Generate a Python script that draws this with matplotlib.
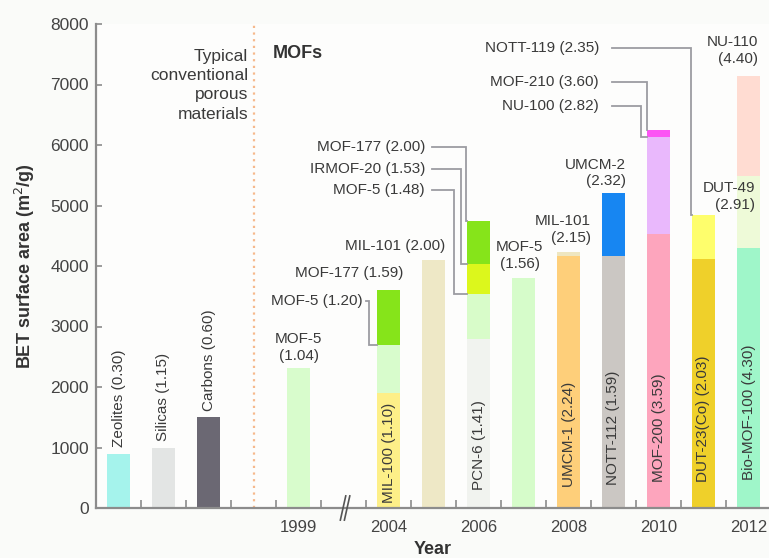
import matplotlib
matplotlib.use('Agg')
import matplotlib.pyplot as plt
from matplotlib.transforms import blended_transform_factory

plt.rcParams['font.family'] = ['Liberation Sans', 'DejaVu Sans']

# ---- data ----
# slot positions: 0 Zeolites, 1 Silicas, 2 Carbons, 3 divider, 4 1999, 5 axis break, 6..14 2004..2012
year_ticks = [4, 6, 8, 10, 12, 14]
year_labels = ['1999', '2004', '2006', '2008', '2010', '2012']
y_ticks = [0, 1000, 2000, 3000, 4000, 5000, 6000, 7000, 8000]

seg_slot = [0, 1, 2, 4, 6, 6, 6, 7, 8, 8, 8, 8, 9, 10, 10, 11, 11, 12, 12, 12, 13, 13, 14, 14, 14]
seg_name = ['Zeolites', 'Silicas', 'Carbons', 'MOF-5', 'MIL-100', 'MOF-5', 'MOF-177', 'MIL-101',
            'PCN-6', 'MOF-5', 'IRMOF-20', 'MOF-177', 'MOF-5', 'UMCM-1', 'MIL-101', 'NOTT-112',
            'UMCM-2', 'MOF-200', 'NU-100', 'MOF-210', 'DUT-23(Co)', 'NOTT-119', 'Bio-MOF-100',
            'DUT-49', 'NU-110']
seg_value = [900, 1000, 1500, 2320, 1900, 2700, 3600, 4100, 2800, 3530, 4030, 4750, 3800,
             4160, 4230, 4160, 5200, 4530, 6140, 6240, 4120, 4850, 4300, 5480, 7140]
seg_color = ['#a5f3ec', '#e3e5e4', '#6b6873', '#d8fccc', '#fdef88', '#d8fccc', '#86e41a', '#eee8c6',
             '#f1f3ef', '#d8fcc9', '#dcf71c', '#86e41a', '#d6fcca', '#fecf7a', '#eee6c0', '#cbc7c3',
             '#1786f2', '#fda5bd', '#e9b8fc', '#fc54f4', '#efd02a', '#fefe6c', '#9ff6c9', '#eefad8',
             '#ffdcd2']

# rotated labels inside / above bars
rot_text = ['Zeolites (0.30)', 'Silicas (1.15)', 'Carbons (0.60)', 'MIL-100 (1.10)', 'PCN-6 (1.41)',
            'UMCM-1 (2.24)', 'NOTT-112 (1.59)', 'MOF-200 (3.59)', 'DUT-23(Co) (2.03)',
            'Bio-MOF-100 (4.30)']
rot_slot = [0, 1, 2, 6, 8, 10, 11, 12, 13, 14]
rot_y = [1010, 1110, 1600, 80, 300, 350, 380, 430, 430, 460]

# multi-line labels above bars
top_text = ['MOF-5\n(1.04)', 'MOF-5\n(1.56)', 'MIL-101\n(2.15)', 'UMCM-2\n(2.32)', 'DUT-49\n(2.91)',
            'NU-110\n(4.40)']
top_x = [4.0, 8.92, 10.49, 11.28, 14.14, 14.21]
top_y = [2650, 4175, 4600, 5540, 5150, 7560]
top_ha = ['center', 'center', 'right', 'right', 'right', 'right']

# single-line labels without leaders
plain_text = ['MOF-177 (1.59)', 'MIL-101 (2.00)']
plain_x = [6.32, 7.26]
plain_y = [3885, 4335]

# leader labels
lead_text = ['MOF-5 (1.20)', 'MOF-177 (2.00)', 'IRMOF-20 (1.53)', 'MOF-5 (1.48)',
             'NOTT-119 (2.35)', 'MOF-210 (3.60)', 'NU-100 (2.82)']
lead_x = [5.43, 6.81, 6.81, 6.81, 10.68, 10.68, 10.68]
lead_y = [3425, 5970, 5600, 5255, 7600, 7045, 6645]
lead_gap = [0.06, 0.15, 0.15, 0.15, 0.28, 0.28, 0.28]
lead_vx = [5.567, 7.722, 7.604, 7.456, 12.72, 11.737, 11.604]
lead_slot = [6, 8, 8, 8, 13, 12, 12]
lead_target = [2700, 4750, 4030, 3530, 4850, 6240, 6140]

# ---- figure ----
fig = plt.figure(figsize=(7.69, 5.58), dpi=100, facecolor='#fafbf9')
ax = fig.add_axes([96 / 769, 50 / 558, 672.75 / 769, 484 / 558])
ax.set_facecolor('#fdfdfc')
ax.set_xlim(-0.5, 14.45)
ax.set_ylim(0, 8000)

bw = 0.5
last_top = {}
for s, v, c in sorted(zip(seg_slot, seg_value, seg_color), key=lambda t: (t[0], t[1])):
    b = last_top.get(s, 0)
    ax.bar(s, v - b, bottom=b, width=bw, color=c, edgecolor='none', zorder=2)
    last_top[s] = v

txt_c = '#3a3a3a'
fs = 11
for t, s, y in zip(rot_text, rot_slot, rot_y):
    ax.text(s, y, t, rotation=90, ha='center', va='bottom', fontsize=fs, color=txt_c, zorder=4)

for t, x, y, ha in zip(top_text, top_x, top_y, top_ha):
    ax.text(x, y, t, ha=ha, va='center', multialignment=ha, fontsize=fs, color=txt_c,
            linespacing=1.22, zorder=4)

for t, x, y in zip(plain_text, plain_x, plain_y):
    ax.text(x, y, t, ha='right', va='center', fontsize=fs, color=txt_c, zorder=4)

lc = '#9c9ca2'
for t, x, y, g, vx, s, tv in zip(lead_text, lead_x, lead_y, lead_gap, lead_vx, lead_slot, lead_target):
    ax.text(x, y, t, ha='right', va='center', fontsize=fs, color=txt_c, zorder=4)
    ax.plot([x + g, vx, vx, s - bw / 2], [y, y, tv, tv], color=lc, lw=1.3, zorder=3,
            solid_joinstyle='miter', clip_on=False)

ax.text(2.878, 6990, 'Typical\nconventional\nporous\nmaterials', ha='right', va='center',
        multialignment='right', fontsize=12.5, color=txt_c, linespacing=1.36)
ax.text(3.427, 7520, 'MOFs', ha='left', va='center', fontsize=13, fontweight='bold', color='#333333')

# divider between conventional materials and MOFs
ax.axvline(3.0, color='#f6b98c', lw=1.6, ls=(0, (1, 2)), zorder=1)

# axes styling
for side in ['top', 'right']:
    ax.spines[side].set_visible(False)
for side in ['left', 'bottom']:
    ax.spines[side].set_color('#8c8c8c')
    ax.spines[side].set_linewidth(1.6)

ax.set_yticks(y_ticks)
ax.set_yticklabels([str(v) for v in y_ticks])
ax.tick_params(axis='y', direction='in', length=4, width=1.2, color='#8c8c8c',
               labelsize=12.5, labelcolor='#444444', pad=5)
ax.set_xticks(year_ticks)
ax.set_xticklabels(year_labels)
ax.tick_params(axis='x', which='major', length=0, labelsize=12, labelcolor='#444444', pad=9)
ax.set_xticks([i + 0.5 for i in range(14)], minor=True)
ax.tick_params(axis='x', which='minor', direction='in', length=6, width=1.2, color='#8c8c8c')

ax.set_ylabel('BET surface area (m$^2$/g)', fontsize=13, fontweight='bold', color='#333333',
              labelpad=10)
ax.set_xlabel('Year', fontsize=13, fontweight='bold', color='#333333', labelpad=4)

# axis break marks
tr = blended_transform_factory(ax.transData, ax.transAxes)
for dx in (0.0, 0.09):
    ax.plot([4.93 + dx, 5.05 + dx], [-0.025, 0.025], color='#555555', lw=1.2,
            transform=tr, clip_on=False, zorder=5)

fig.savefig('out.png', dpi=100, facecolor=fig.get_facecolor())
